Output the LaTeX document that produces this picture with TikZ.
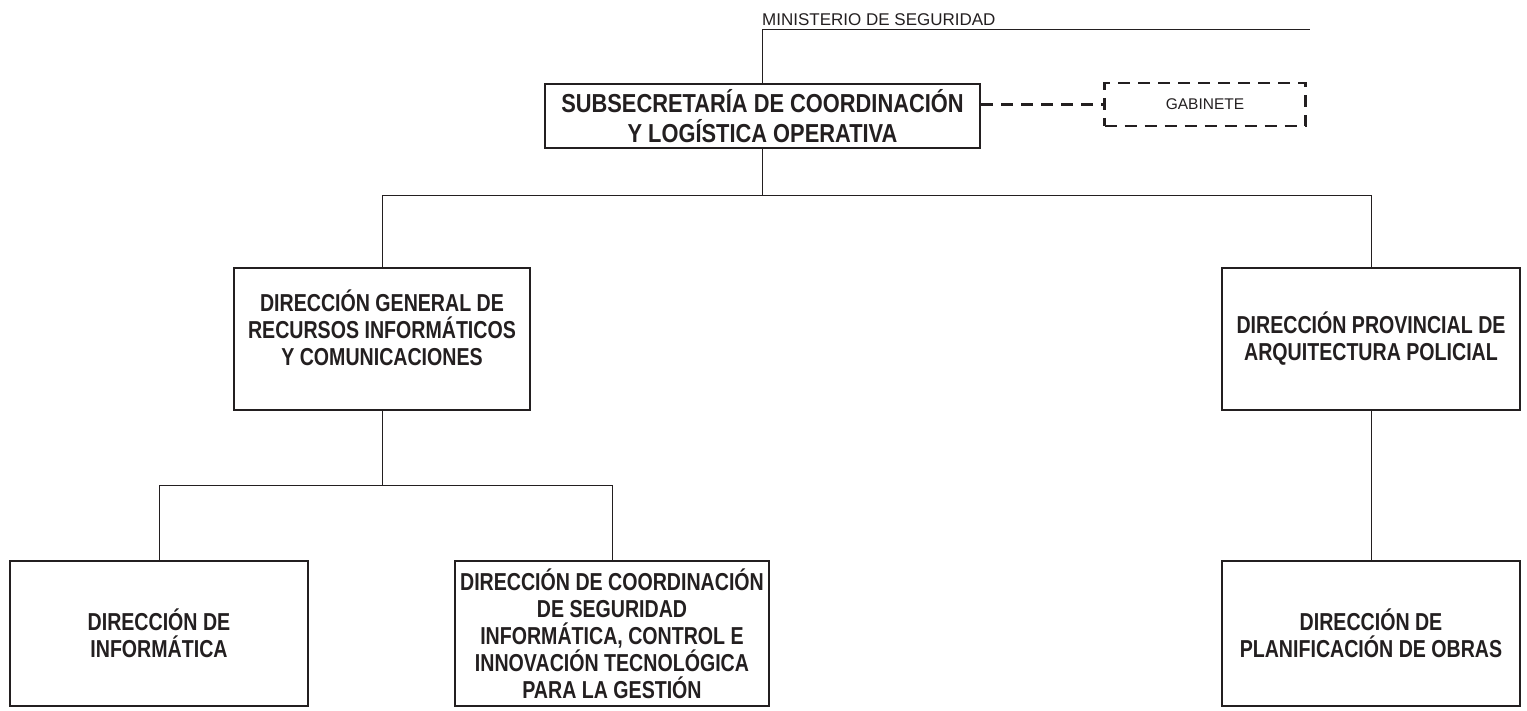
\documentclass[tikz,border=0pt]{standalone}
\usepackage{fontspec}
\setmainfont{Liberation Sans}
\newfontfamily\cnfont{Liberation Sans}[FakeStretch=0.80]
\newfontfamily\mainfont{Liberation Sans}[FakeStretch=0.84]
\usetikzlibrary{calc}
\definecolor{ink}{HTML}{231F20}
\begin{document}
\begin{tikzpicture}[x=1pt,y=-1pt,
  box/.style={draw=ink,line width=2.6pt,inner sep=0pt},
  txt/.style={align=center,font=\cnfont\fontsize{24.5}{27}\selectfont\bfseries,text=ink},
  conn/.style={draw=ink,line width=1pt},
  dashbox/.style={draw=ink,line width=2.4pt,dash pattern=on 12pt off 8pt,inner sep=0pt}]
\useasboundingbox (0,0) rectangle (1527,711);
% main
\node[box,minimum width=435,minimum height=64,align=center,
  font=\mainfont\fontsize{26}{30}\selectfont\bfseries,text=ink] (main) at (762.5,116)
  {SUBSECRETARÍA DE COORDINACIÓN\\Y LOGÍSTICA OPERATIVA};
\node[dashbox,minimum width=201,minimum height=43,font=\fontsize{15.5}{18}\selectfont,text=ink] (gab) at (1205,104.5) {GABINETE};
\coordinate (mend) at (1310,30);
\node[anchor=base west,inner sep=0pt,font=\fontsize{17}{20}\selectfont,text=ink] (min) at (762,25.5) {MINISTERIO DE SEGURIDAD};
\draw[conn] (main.north) -- (main.north |- mend) -- (mend);
\draw[dashbox] (main.east |- gab.west) -- (gab.west);
% level 2
\node[box,minimum width=296,minimum height=142] (dg) at (382,339) {};
\node[txt] (dgt) at ($(dg.center)+(0,-11)$) {DIRECCIÓN GENERAL DE\\RECURSOS INFORMÁTICOS\\Y COMUNICACIONES};
\node[box,minimum width=298,minimum height=142,txt] (dpap) at (1371,339) {DIRECCIÓN PROVINCIAL DE\\ARQUITECTURA POLICIAL};
\coordinate (h1) at (0,196);
\draw[conn] (main.south) -- (main.south |- h1);
\draw[conn] (dg.north) -- (dg.north |- h1) -| (dpap.north);
% level 3
\node[box,minimum width=298,minimum height=145,txt] (di) at (159,633.5) {DIRECCIÓN DE\\INFORMÁTICA};
\node[box,minimum width=314,minimum height=145,txt] (dcs) at (612,633.5) {DIRECCIÓN DE COORDINACIÓN\\DE SEGURIDAD\\INFORMÁTICA, CONTROL E\\INNOVACIÓN TECNOLÓGICA\\PARA LA GESTIÓN};
\node[box,minimum width=298,minimum height=145,txt] (dpo) at (1371,633.5) {DIRECCIÓN DE\\PLANIFICACIÓN DE OBRAS};
\coordinate (h2) at (0,485);
\draw[conn] (dg.south) -- (dg.south |- h2);
\draw[conn] (di.north) -- (di.north |- h2) -| (dcs.north);
\draw[conn] (dpap.south) -- (dpo.north);
\end{tikzpicture}
\end{document}
